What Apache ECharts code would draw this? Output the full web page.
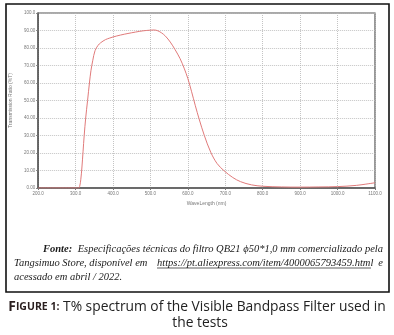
<!DOCTYPE html>
<html>
<head>
<meta charset="utf-8">
<script src="https://cdn.jsdelivr.net/npm/echarts@6/dist/echarts.min.js"></script>
<style>
  html, body { margin: 0; padding: 0; background: #fff; }
  #chart { width: 394px; height: 335px; }
</style>
</head>
<body>
<div id="chart"></div>
<script>
// Transmission spectrum of the QB21 visible bandpass filter
const wavelength = [200, 300, 308, 311, 314, 317, 320, 323, 327, 332, 337, 341, 346, 352, 360, 367,
  380, 390, 400, 420, 440, 460, 480, 500, 510, 520, 530, 540, 553, 566, 579, 590, 600, 610, 620, 630,
  644, 661, 678, 697, 720, 741, 770, 800, 850, 900, 950, 1000, 1050, 1100];
const transmission = [0, 0, 0, 1, 5, 12, 21, 30, 40, 50, 60, 67, 73, 78.5, 81.5, 83,
  84.8, 85.6, 86.3, 87.4, 88.3, 89.1, 89.8, 90.2, 90.3, 89.8, 88.6, 86.8, 83.4, 79, 74, 68.5, 62.5, 55, 47, 39.5,
  30, 20.5, 14, 9.8, 6, 3.6, 1.8, 1, 0.6, 0.5, 0.6, 0.8, 1.5, 3];

const xTickLabels = ['200.0', '300.0', '400.0', '500.0', '600.0', '700.0', '800.0', '900.0', '1000.0', '1100.0'];
const yTickLabels = ['0.00', '10.00', '20.00', '30.00', '40.00', '50.00', '60.00', '70.00', '80.00', '90.00', '100.0'];

const xAxisName = 'WaveLength (nm)';
const yAxisName = 'Transmission Ratio (%T)';

const sourceLine1Bold = 'Fonte:';
const sourceLine1 = 'Especificações técnicas do filtro QB21 ϕ50*1,0 mm comercializado pela';
const sourceLine2a = 'Tangsimuo Store, disponível em';
const sourceUrl = 'https://pt.aliexpress.com/item/4000065793459.html';
const sourceLine2b = 'e';
const sourceLine3 = 'acessado em abril / 2022.';
const captionLabel = ['F', 'IGURE 1:'];
const captionLine1 = ' T% spectrum of the Visible Bandpass Filter used in';
const captionLine2 = 'the tests';

const chart = echarts.init(document.getElementById('chart'), null, { renderer: 'canvas' });

const serif = '"Liberation Serif", "DejaVu Serif", serif';
const noteStyle = { fontFamily: serif, fontStyle: 'italic', fontSize: 10.5, fill: '#1a1a1a' };

chart.setOption({
  animation: false,
  backgroundColor: '#fff',
  grid: {
    left: 35, right: 19, top: 13, bottom: 147,
    show: true, borderColor: '#555', borderWidth: 1.2, backgroundColor: '#fff'
  },
  xAxis: {
    type: 'value', min: 200, max: 1100, interval: 100,
    name: xAxisName, nameLocation: 'middle', nameGap: 8,
    nameTextStyle: { fontSize: 5, color: '#777', fontFamily: 'Liberation Sans' },
    axisLine: { lineStyle: { color: '#555', width: 1.5 } },
    axisTick: { show: true, length: 2, lineStyle: { color: '#777' } },
    axisLabel: {
      fontSize: 4.5, color: '#777', margin: 3, fontFamily: 'Liberation Sans',
      formatter: (v) => xTickLabels[Math.round((v - 200) / 100)]
    },
    splitLine: { show: true, lineStyle: { color: '#b5b5b5', type: [1, 1], width: 0.8 } }
  },
  yAxis: {
    type: 'value', min: 0, max: 100, interval: 10,
    name: yAxisName, nameLocation: 'middle', nameGap: 15, nameRotate: 90,
    nameTextStyle: { fontSize: 5, color: '#777', fontFamily: 'Liberation Sans' },
    axisLine: { show: true, lineStyle: { color: '#555', width: 1.5 } },
    axisTick: { show: true, length: 2, lineStyle: { color: '#777' } },
    axisLabel: {
      fontSize: 4.5, color: '#777', margin: 3, fontFamily: 'Liberation Sans',
      formatter: (v) => yTickLabels[Math.round(v / 10)]
    },
    splitLine: { show: true, lineStyle: { color: '#b5b5b5', type: [1, 1], width: 0.8 } }
  },
  series: [{
    type: 'line',
    data: wavelength.map((w, i) => [w, transmission[i]]),
    smooth: 0.35,
    showSymbol: false,
    lineStyle: { color: '#e07a7a', width: 1 }
  }],
  graphic: [
    // frame around figure and source note
    { type: 'rect', shape: { x: 6, y: 4, width: 383, height: 288 },
      style: { fill: 'none', stroke: '#111', lineWidth: 1.6 }, z: 10 },
    // source note
    { type: 'text', x: 43, y: 249, style: Object.assign({}, noteStyle, { text: sourceLine1Bold, fontWeight: 'bold', verticalAlign: 'middle' }) },
    { type: 'text', x: 383, y: 249, style: Object.assign({}, noteStyle, { text: sourceLine1, align: 'right', verticalAlign: 'middle' }) },
    { type: 'text', x: 14, y: 263, style: Object.assign({}, noteStyle, { text: sourceLine2a, verticalAlign: 'middle' }) },
    { type: 'text', x: 157, y: 263, style: Object.assign({}, noteStyle, { text: sourceUrl, verticalAlign: 'middle' }) },
    { type: 'line', shape: { x1: 157, y1: 268, x2: 371, y2: 268 }, style: { stroke: '#1a1a1a', lineWidth: 0.7 } },
    { type: 'text', x: 383, y: 263, style: Object.assign({}, noteStyle, { text: sourceLine2b, align: 'right', verticalAlign: 'middle' }) },
    { type: 'text', x: 14, y: 277, style: Object.assign({}, noteStyle, { text: sourceLine3, verticalAlign: 'middle' }) },
    // figure caption
    { type: 'text', x: 197, y: 307, style: {
        text: '{b|' + captionLabel[0] + '}{s|' + captionLabel[1] + '}{r|' + captionLine1 + '}',
        align: 'center', verticalAlign: 'middle',
        rich: {
          b: { fontFamily: 'Open Sans', fontWeight: 'bold', fontSize: 13.8, fill: '#2a1f1f' },
          s: { fontFamily: 'Open Sans', fontWeight: 'bold', fontSize: 10.5, fill: '#2a1f1f' },
          r: { fontFamily: 'Open Sans', fontSize: 13.8, fill: '#222' }
        }
    } },
    { type: 'text', x: 200, y: 323, style: { text: captionLine2, align: 'center', verticalAlign: 'middle',
        fontFamily: 'Open Sans', fontSize: 13.8, fill: '#222' } }
  ]
});
</script>
</body>
</html>
